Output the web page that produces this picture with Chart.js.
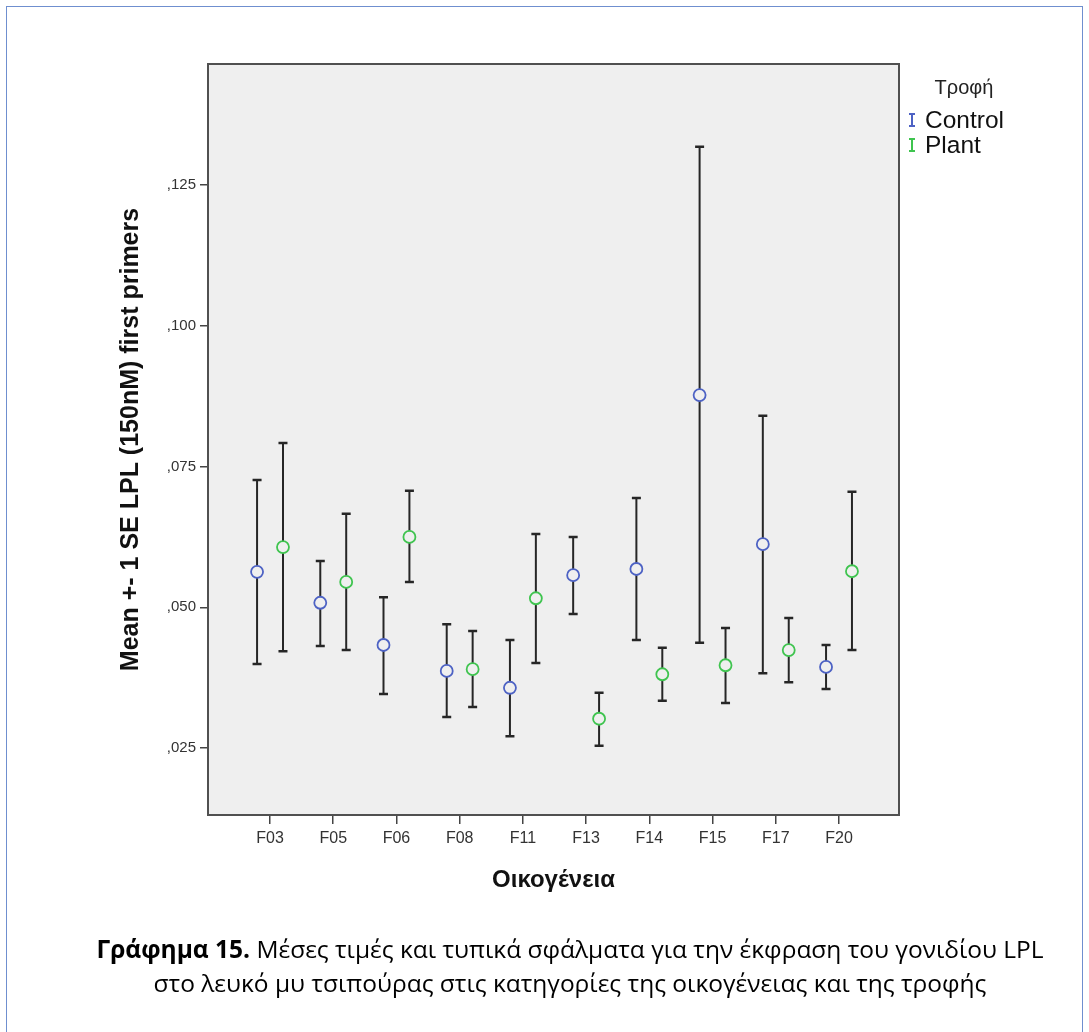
<!DOCTYPE html>
<html><head><meta charset="utf-8">
<script src="https://cdn.jsdelivr.net/npm/chart.js@4/dist/chart.umd.min.js"></script>
<style>
html,body{margin:0;padding:0;background:#fff;}
#wrap{position:relative;width:1089px;height:1032px;overflow:hidden;}
#frame{position:absolute;left:6px;top:6px;width:1077px;height:1100px;border:1.5px solid #6f8fcf;box-sizing:border-box;}
#c{position:absolute;left:0;top:0;}
#caption{position:absolute;left:0;top:932px;width:1140px;text-align:center;font-family:'Open Sans',sans-serif;font-size:24.5px;line-height:34px;color:#000;}
</style></head>
<body>
<div id="wrap">
<div id="frame"></div>
<canvas id="c" width="1089" height="1032"></canvas>
<div id="caption"><b>Γράφημα 15.</b> Μέσες τιμές και τυπικά σφάλματα για την έκφραση του γονιδίου LPL<br>στο λευκό μυ τσιπούρας στις κατηγορίες της οικογένειας και της τροφής</div>
</div>
<script>
const categories = ['F03','F05','F06','F08','F11','F13','F14','F15','F17','F20'];
const controlMean = [0.0563,0.0508,0.0433,0.0387,0.0357,0.0557,0.0568,0.0877,0.0612,0.0394];
const controlLow  = [0.0399,0.0431,0.0346,0.0305,0.0271,0.0488,0.0442,0.0437,0.0383,0.0355];
const controlHigh = [0.0726,0.0582,0.0518,0.0470,0.0442,0.0625,0.0694,0.1318,0.0840,0.0433];
const plantMean = [0.0607,0.0545,0.0625,0.0390,0.0516,0.0302,0.0381,0.0397,0.0424,0.0564];
const plantLow  = [0.0422,0.0424,0.0545,0.0323,0.0401,0.0254,0.0334,0.0330,0.0367,0.0424];
const plantHigh = [0.0792,0.0666,0.0707,0.0458,0.0630,0.0348,0.0428,0.0463,0.0481,0.0705];
const yTicks = [0.025,0.05,0.075,0.1,0.125];
const seriesNames = ['Control','Plant'];
const legendTitle = 'Τροφή';
const xTitle = 'Οικογένεια';
const yTitle = 'Mean +- 1 SE LPL (150nM) first primers';

const blue = '#4d62c4', green = '#3fc44f';
const offset = 0.205;

function build(mean, low, high, shift){
  return categories.map((c,i)=>({x:i+1+shift, y:mean[i], yMin:low[i], yMax:high[i]}));
}

const bgPlugin = {
  id:'bg',
  beforeDraw(chart){
    const {ctx, chartArea:a} = chart;
    ctx.save(); ctx.fillStyle='#efefef';
    ctx.fillRect(a.left,a.top,a.right-a.left,a.bottom-a.top);
    ctx.restore();
  },
  afterDraw(chart){
    const {ctx, chartArea:a} = chart;
    ctx.save(); ctx.strokeStyle='#505050'; ctx.lineWidth=2;
    ctx.strokeRect(a.left,a.top,a.right-a.left,a.bottom-a.top);
    ctx.restore();
  }
};

const errorBarPlugin = {
  id:'errorBars',
  beforeDatasetsDraw(chart){
    const ctx = chart.ctx, ys = chart.scales.y;
    chart.data.datasets.forEach((ds,di)=>{
      const meta = chart.getDatasetMeta(di);
      meta.data.forEach((pt,i)=>{
        const raw = ds.data[i];
        const top = ys.getPixelForValue(raw.yMax), bot = ys.getPixelForValue(raw.yMin);
        ctx.save(); ctx.strokeStyle='#262626'; ctx.lineWidth=2;
        ctx.beginPath();
        ctx.moveTo(pt.x,top); ctx.lineTo(pt.x,bot);
        ctx.stroke();
        ctx.lineWidth=2.5;
        ctx.beginPath();
        ctx.moveTo(pt.x-4.5,top); ctx.lineTo(pt.x+4.5,top);
        ctx.moveTo(pt.x-4.5,bot); ctx.lineTo(pt.x+4.5,bot);
        ctx.stroke();
        ctx.restore();
      });
    });
  }
};

const legendPlugin = {
  id:'customLegend',
  afterDraw(chart){
    const ctx = chart.ctx;
    ctx.save();
    ctx.fillStyle='#222';
    ctx.font='20px "Liberation Sans", Arial, sans-serif';
    ctx.textAlign='center'; ctx.textBaseline='middle';
    ctx.fillText(legendTitle, 964, 88);
    const cols=[blue,green], ys=[120,145];
    ctx.font='24.5px "Liberation Sans", Arial, sans-serif';
    ctx.textAlign='left';
    seriesNames.forEach((n,i)=>{
      const y=ys[i];
      ctx.strokeStyle=cols[i]; ctx.lineWidth=2;
      ctx.beginPath();
      ctx.moveTo(912,y-6); ctx.lineTo(912,y+6);
      ctx.moveTo(909,y-6); ctx.lineTo(915,y-6);
      ctx.moveTo(909,y+6); ctx.lineTo(915,y+6);
      ctx.stroke();
      ctx.fillStyle='#111';
      ctx.fillText(n, 925, y+1);
    });
    ctx.restore();
  }
};

new Chart(document.getElementById('c'), {
  type:'scatter',
  data:{datasets:[
    {label:seriesNames[0], data:build(controlMean,controlLow,controlHigh,-offset),
     borderColor:blue, backgroundColor:'#efefef', pointRadius:6, pointBorderWidth:1.8, pointHoverRadius:6},
    {label:seriesNames[1], data:build(plantMean,plantLow,plantHigh,offset),
     borderColor:green, backgroundColor:'#efefef', pointRadius:6, pointBorderWidth:1.8, pointHoverRadius:6}
  ]},
  options:{
    responsive:false, animation:false,
    layout:{padding:{left:0,top:64,right:190,bottom:117}},
    plugins:{legend:{display:false}, tooltip:{enabled:false}},
    scales:{
      x:{type:'linear', min:0.019, max:10.949,
        afterBuildTicks(s){ s.ticks = categories.map((c,i)=>({value:i+1})); },
        afterFit(s){ s.height = 100; },
        ticks:{callback:(v)=>categories[Math.round(v)-1], font:{family:'Liberation Sans', size:16}, color:'#333', padding:5, maxRotation:0, autoSkip:false},
        grid:{display:true, drawOnChartArea:false, drawTicks:true, tickLength:9, color:'#444', lineWidth:1.5},
        border:{display:false},
        title:{display:true, text:xTitle, font:{family:'Liberation Sans', size:24, weight:'bold'}, color:'#111', padding:{top:0,bottom:20}}
      },
      y:{type:'linear', min:0.0131, max:0.1465,
        afterBuildTicks(s){ s.ticks = yTicks.map(v=>({value:v})); },
        afterFit(s){ s.width = 208; },
        ticks:{callback:(v)=>v.toFixed(3).replace('0.',','), font:{family:'Liberation Sans', size:15}, color:'#333', padding:4},
        grid:{display:true, drawOnChartArea:false, drawTicks:true, tickLength:8, color:'#444', lineWidth:1.5},
        border:{display:false},
        title:{display:true, text:yTitle, font:{family:'Liberation Sans', size:25, weight:'bold'}, color:'#111', padding:{top:116,bottom:0}}
      }
    }
  },
  plugins:[bgPlugin, errorBarPlugin, legendPlugin]
});
</script>
</body></html>
